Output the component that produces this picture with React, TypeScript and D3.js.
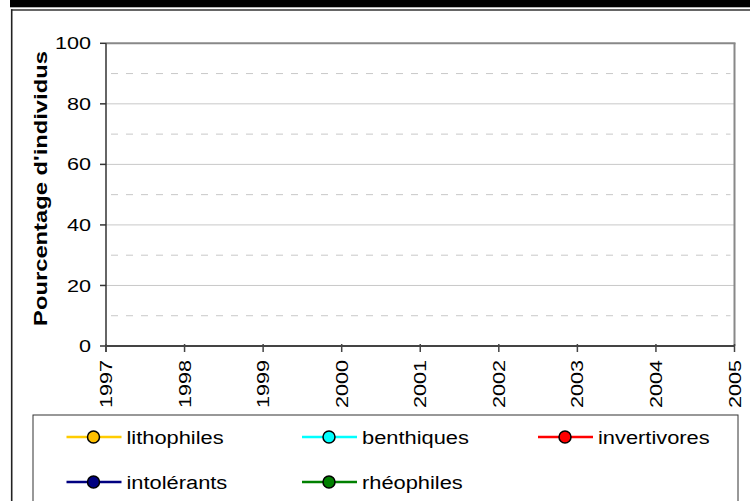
import React from "react";
import * as d3 from "d3";

const years = [1997, 1998, 1999, 2000, 2001, 2002, 2003, 2004, 2005];
const yMajorTicks = [0, 20, 40, 60, 80, 100];
const yMinorTicks = [10, 30, 50, 70, 90];
const seriesNames = ["lithophiles", "benthiques", "invertivores", "intolérants", "rhéophiles"];
const lineColors = ["#FFCC00", "#00FFFF", "#FF0000", "#000080", "#008000"];
const markerColors = ["#FFC000", "#00FFFF", "#FF0000", "#000080", "#008000"];
// no data values are plotted in the reference (empty series)
const seriesValues: number[][] = [[], [], [], [], []];

const W = 750;
const H = 501;
const FONT = "'Liberation Sans', Arial, sans-serif";
const STRETCH = 1.27;

export default function App() {
  const x = d3.scaleLinear().domain([1997, 2005]).range([106, 734.5]);
  const y = d3.scaleLinear().domain([0, 100]).range([346, 43.3]);

  const legendCols = [66.5, 302, 538];
  const legendRows = [437, 482];
  const tickFs = 17;

  return (
    <svg
      width={W}
      height={H}
      style={{ position: "absolute", left: 0, top: 0, background: "#fff" }}
      fontFamily={FONT}
    >
      <rect x={0} y={0} width={W} height={H} fill="#fff" />
      {/* top black band */}
      <rect x={10} y={0} width={W - 10} height={7.3} fill="#000" />
      {/* outer border */}
      <line x1={11} x2={W} y1={10} y2={10} stroke="#333" strokeWidth={1.6} />
      <line x1={11.7} x2={11.7} y1={9.2} y2={H} stroke="#222" strokeWidth={1.6} />

      {/* gridlines */}
      {yMinorTicks.map((t) => (
        <line
          key={"mn" + t}
          x1={x(1997) + 5}
          x2={x(2005) - 4}
          y1={y(t)}
          y2={y(t)}
          stroke="#c8c8c8"
          strokeWidth={1}
          strokeDasharray="7,8"
        />
      ))}
      {yMajorTicks
        .filter((t) => t > 0 && t < 100)
        .map((t) => (
          <line
            key={"mj" + t}
            x1={x(1997)}
            x2={x(2005)}
            y1={y(t)}
            y2={y(t)}
            stroke="#c8c8c8"
            strokeWidth={1}
          />
        ))}

      {/* plot border top/right */}
      <line x1={x(1997)} x2={x(2005) + 1} y1={y(100)} y2={y(100)} stroke="#888" strokeWidth={2} />
      <line x1={x(2005)} x2={x(2005)} y1={y(100)} y2={y(0)} stroke="#888" strokeWidth={2} />

      {/* axes */}
      <line x1={x(1997)} x2={x(1997)} y1={y(100)} y2={y(0) + 6} stroke="#333" strokeWidth={1.5} />
      <line x1={x(1997)} x2={x(2005)} y1={y(0)} y2={y(0)} stroke="#444" strokeWidth={2} />
      {yMajorTicks.map((t) => (
        <g key={"yt" + t}>
          <line x1={x(1997) - 6} x2={x(1997)} y1={y(t)} y2={y(t)} stroke="#333" strokeWidth={1.5} />
          <text
            transform={`translate(${x(1997) - 15},${y(t) + 0.358 * tickFs}) scale(${STRETCH},1)`}
            textAnchor="end"
            fontSize={tickFs}
            fill="#000"
          >
            {t}
          </text>
        </g>
      ))}
      {years.map((yr) => (
        <g key={"xt" + yr}>
          <line x1={x(yr)} x2={x(yr)} y1={y(0) - 2} y2={y(0) + 6} stroke="#444" strokeWidth={1.5} />
          <text
            transform={`translate(${x(yr) + 0.358 * tickFs},${y(0) + 14}) rotate(-90) scale(${STRETCH},1)`}
            textAnchor="end"
            fontSize={tickFs}
            fill="#000"
          >
            {yr}
          </text>
        </g>
      ))}

      {/* series (empty) */}
      {seriesValues.map((vals, i) => {
        const line = d3
          .line<number>()
          .x((_, j) => x(years[j]))
          .y((v) => y(v));
        return vals.length ? (
          <path key={"s" + i} d={line(vals) || ""} fill="none" stroke={lineColors[i]} strokeWidth={2} />
        ) : null;
      })}

      {/* y title */}
      <text
        transform={`translate(47,188.5) rotate(-90) scale(1.25,1)`}
        textAnchor="middle"
        fontSize={19}
        fontWeight="bold"
        fill="#000"
      >
        Pourcentage d'individus
      </text>

      {/* legend */}
      <rect x={33} y={415} width={705} height={100} fill="#fff" stroke="#333" strokeWidth={1} />
      {seriesNames.map((name, i) => {
        const cx = legendCols[i % 3];
        const cy = legendRows[Math.floor(i / 3)];
        return (
          <g key={"lg" + i}>
            <line x1={cx} x2={cx + 55} y1={cy} y2={cy} stroke={lineColors[i]} strokeWidth={2.5} />
            <circle cx={cx + 27} cy={cy} r={6} fill={markerColors[i]} stroke="#000" strokeWidth={1.5} />
            <text
              transform={`translate(${cx + 60},${cy + 0.36 * 19}) scale(1.15,1)`}
              fontSize={19}
              fill="#000"
            >
              {name}
            </text>
          </g>
        );
      })}
    </svg>
  );
}
